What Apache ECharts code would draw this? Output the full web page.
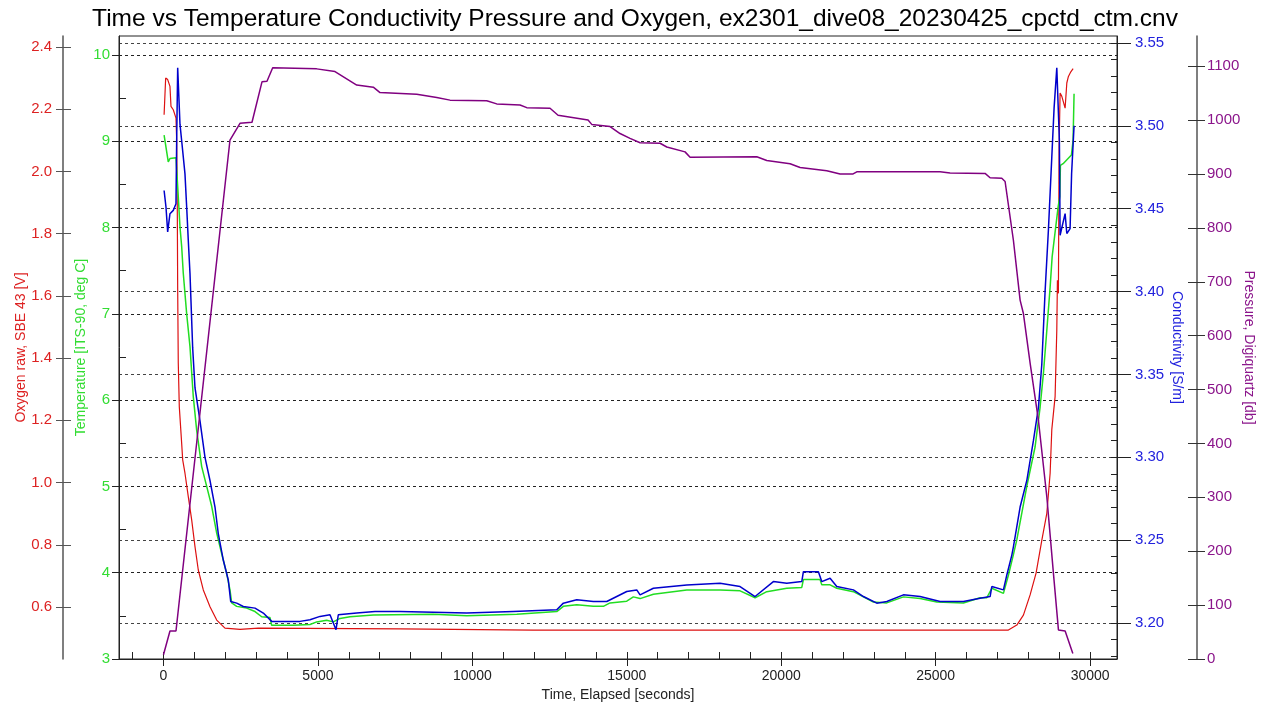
<!DOCTYPE html>
<html>
<head>
<meta charset="utf-8">
<script src="https://cdn.jsdelivr.net/npm/echarts@6/dist/echarts.min.js"></script>
<style>
html,body{margin:0;padding:0;background:#fff;}
#chart{width:1270px;height:709px;}
</style>
</head>
<body>
<div id="chart"></div>
<script>
// ---- Data ----
const pressTime = [0,210,405,2153,2477,2866,3189,3351,3536,4961,5553,6256,6793,7010,8199,8846,9277,10465,10789,11544,11761,12515,12774,13745,13865,14458,14781,15105,15429,16077,16294,16886,17048,19208,19531,20286,20610,21474,21905,22326,22446,25142,25466,26599,26761,27140,27247,27516,27733,27840,28057,28326,28598,28812,28974,29191,29440];
const pressVals = [8,52,52,963,994,996,1071,1072,1097,1095,1090,1065,1061,1051,1048,1042,1037,1036,1030,1028,1023,1022,1009,1000,992,988,975,966,958,957,950,941,931,932,925,919,912,906,900,900,904,904,902,901,893,892,886,777,666,641,549,443,301,159,54,52,10];

const tempTime = [20,155,210,405,479,534,589,641,751,858,965,1075,1237,1399,1561,1723,1885,2046,2153,2208,2370,2694,2963,3180,3449,3503,4203,4744,4961,5284,5498,5715,6039,6793,8736,9818,11437,12732,12946,13379,13917,14241,14458,14998,15212,15429,15860,16941,18020,18667,19153,19532,20179,20665,20717,21257,21312,21581,21798,22336,22553,22983,23417,23955,24496,25036,25898,26438,26655,26817,27193,27354,27516,27626,27950,28219,28381,28488,28598,28705,28770,28964,29019,29038,29125,29394,29448,29480];
const tempVals = [9.07,8.76,8.80,8.81,8.36,8.01,7.78,7.47,7.00,6.62,6.04,5.65,5.23,5.00,4.77,4.46,4.22,3.99,3.80,3.65,3.61,3.59,3.55,3.49,3.48,3.39,3.39,3.40,3.43,3.45,3.43,3.47,3.49,3.51,3.52,3.50,3.52,3.55,3.61,3.63,3.61,3.61,3.65,3.67,3.72,3.70,3.75,3.80,3.80,3.79,3.71,3.78,3.82,3.83,3.92,3.92,3.86,3.86,3.82,3.78,3.74,3.66,3.65,3.72,3.70,3.66,3.65,3.71,3.71,3.82,3.76,3.97,4.21,4.38,5.00,5.46,5.92,6.31,6.81,7.31,7.66,8.24,8.36,8.72,8.74,8.84,9.01,9.55];

const condTime = [20,81,136,210,317,405,427,460,534,589,696,751,803,858,945,1020,1182,1344,1506,1668,1774,1936,2098,2176,2370,2584,2963,3232,3503,3555,4420,4744,5068,5391,5498,5586,5660,6256,6848,7657,9818,11327,12732,12946,13379,13917,14351,14998,15322,15429,15860,16941,18020,18667,19153,19745,20179,20665,20717,21203,21312,21581,21798,22336,22660,23093,23417,23955,24496,25143,25898,26438,26762,26817,27193,27303,27465,27516,27733,27950,28164,28326,28435,28542,28649,28759,28834,28921,29005,29028,29190,29245,29351,29400,29480];
const condVals = [3.461,3.451,3.436,3.447,3.449,3.453,3.491,3.535,3.501,3.491,3.471,3.451,3.431,3.411,3.366,3.342,3.322,3.300,3.286,3.270,3.254,3.238,3.226,3.213,3.212,3.210,3.209,3.206,3.201,3.200,3.201,3.202,3.204,3.205,3.200,3.196,3.205,3.206,3.207,3.207,3.206,3.207,3.208,3.212,3.214,3.213,3.213,3.219,3.220,3.217,3.221,3.223,3.224,3.222,3.216,3.225,3.224,3.225,3.231,3.231,3.225,3.227,3.222,3.220,3.216,3.212,3.213,3.217,3.216,3.213,3.213,3.215,3.216,3.222,3.220,3.229,3.241,3.246,3.270,3.286,3.310,3.330,3.356,3.400,3.437,3.481,3.511,3.535,3.491,3.434,3.447,3.435,3.438,3.471,3.500];

const oxyTime = [20,71,136,210,243,317,405,427,447,460,479,512,589,622,696,803,913,1020,1127,1289,1506,1723,1991,2477,3070,7658,11964,20610,27354,27626,27840,28057,28250,28437,28598,28705,28759,28866,28921,28941,28973,28996,29028,29084,29190,29245,29297,29375,29450];
const oxyVals = [2.182,2.300,2.295,2.273,2.209,2.198,2.171,2.100,1.887,1.620,1.384,1.244,1.126,1.073,1.030,0.955,0.880,0.794,0.719,0.655,0.601,0.558,0.532,0.528,0.532,0.530,0.526,0.526,0.526,0.542,0.574,0.639,0.709,0.815,0.901,1.030,1.170,1.276,1.490,1.650,1.608,2.080,2.252,2.241,2.203,2.284,2.305,2.320,2.330];

// ---- Tick labels ----
const timeTicks = [0,5000,10000,15000,20000,25000,30000];
const timeMinorTicks = [-1000,0,1000,2000,3000,4000,5000,6000,7000,8000,9000,10000,11000,12000,13000,14000,15000,16000,17000,18000,19000,20000,21000,22000,23000,24000,25000,26000,27000,28000,29000,30000];
const tempTicks = [3,4,5,6,7,8,9,10];
const tempMinorTicks = [3.5,4.5,5.5,6.5,7.5,8.5,9.5];
const oxyTicks = [0.6,0.8,1.0,1.2,1.4,1.6,1.8,2.0,2.2,2.4];
const condTicks = [3.20,3.25,3.30,3.35,3.40,3.45,3.50,3.55];
const condMinorTicks = [3.18,3.19,3.20,3.21,3.22,3.23,3.24,3.25,3.26,3.27,3.28,3.29,3.30,3.31,3.32,3.33,3.34,3.35,3.36,3.37,3.38,3.39,3.40,3.41,3.42,3.43,3.44,3.45,3.46,3.47,3.48,3.49,3.50,3.51,3.52,3.53,3.54,3.55];
const pressTicks = [0,100,200,300,400,500,600,700,800,900,1000,1100];

// ---- Styling ----
const FONT = '"Liberation Sans", Arial, sans-serif';
const C_OXY = '#dd1111', C_TEMP = '#22dd22', C_COND = '#0000cc', C_PRESS = '#800080';
const L_OXY = '#dd2222', L_TEMP = '#33dd33', L_COND = '#2222dd', L_PRESS = '#8b158b';

const pairs = (ts, vs) => ts.map((t, i) => [t, vs[i]]);
const plain = v => String(v);

const chart = echarts.init(document.getElementById('chart'), null, {renderer: 'canvas'});
const noLine = {show: false, onZero: false};
chart.setOption({
  animation: false,
  backgroundColor: '#fff',
  title: {
    text: 'Time vs Temperature Conductivity Pressure and Oxygen, ex2301_dive08_20230425_cpctd_ctm.cnv',
    left: 'center', top: 2,
    textStyle: {fontFamily: FONT, fontSize: 24.5, fontWeight: 'normal', color: '#000'}
  },
  grid: {left: 119, right: 153, top: 36, bottom: 50, show: true, borderColor: '#222', borderWidth: 1,
         backgroundColor: 'transparent', containLabel: false, outerBoundsMode: 'none'},
  xAxis: [
    {
      type: 'value', min: -1440, max: 30870,
      name: 'Time, Elapsed [seconds]', nameLocation: 'middle', nameGap: 28,
      nameTextStyle: {fontFamily: FONT, fontSize: 14, color: '#222'},
      axisLine: {show: true, onZero: false, lineStyle: {color: '#222', width: 1}},
      axisTick: {show: true, inside: false, length: 7, customValues: timeTicks, lineStyle: {color: '#222'}},
      axisLabel: {customValues: timeTicks, formatter: plain, fontFamily: FONT, fontSize: 14, color: '#222', margin: 10},
      splitLine: {show: false}
    },
    {
      type: 'value', min: -1440, max: 30870, position: 'bottom',
      axisLine: noLine,
      axisTick: {show: true, inside: true, length: 7, customValues: timeMinorTicks, lineStyle: {color: '#222'}},
      axisLabel: {show: false}, splitLine: {show: false}
    }
  ],
  yAxis: [
    { // 0 temperature
      type: 'value', position: 'left', min: 3, max: 10.22, interval: 1,
      name: 'Temperature [ITS-90, deg C]', nameLocation: 'middle', nameGap: 31, nameMoveOverlap: false,
      nameTextStyle: {fontFamily: FONT, fontSize: 14, color: L_TEMP},
      axisLine: {show: true, onZero: false, lineStyle: {color: '#222'}},
      axisTick: {show: true, length: 7, customValues: tempTicks, lineStyle: {color: '#222'}},
      axisLabel: {customValues: tempTicks, formatter: plain, fontFamily: FONT, fontSize: 15, color: L_TEMP, margin: 9},
      splitLine: {show: true, lineStyle: {color: '#222', type: [3, 3], width: 1}}
    },
    { // 1 temperature minor inside
      type: 'value', position: 'left', min: 3, max: 10.22,
      axisLine: noLine,
      axisTick: {show: true, inside: true, length: 7, customValues: tempMinorTicks, lineStyle: {color: '#222'}},
      axisLabel: {show: false}, splitLine: {show: false}
    },
    { // 2 oxygen
      type: 'value', position: 'left', offset: 56, min: 0.433, max: 2.435,
      name: 'Oxygen raw, SBE 43 [V]', nameLocation: 'middle', nameGap: 35, nameMoveOverlap: false,
      nameTextStyle: {fontFamily: FONT, fontSize: 14, color: L_OXY},
      axisLine: {show: true, onZero: false, lineStyle: {color: '#555', width: 1.5}},
      axisTick: {show: true, length: 7, customValues: oxyTicks, lineStyle: {color: '#555'}},
      axisLabel: {customValues: oxyTicks, formatter: v => v.toFixed(1), fontFamily: FONT, fontSize: 15, color: L_OXY, margin: 11},
      splitLine: {show: false}
    },
    { // 3 oxygen inside ticks
      type: 'value', position: 'left', offset: 56, min: 0.433, max: 2.435,
      axisLine: noLine,
      axisTick: {show: true, inside: true, length: 8, customValues: oxyTicks, lineStyle: {color: '#555'}},
      axisLabel: {show: false}, splitLine: {show: false}
    },
    { // 4 conductivity
      type: 'value', position: 'right', min: 3.1783, max: 3.5542,
      name: 'Conductivity [S/m]', nameLocation: 'middle', nameGap: 53, nameRotate: -90, nameMoveOverlap: false,
      nameTextStyle: {fontFamily: FONT, fontSize: 14, color: L_COND},
      axisLine: {show: true, onZero: false, lineStyle: {color: '#222'}},
      axisTick: {show: true, length: 14, customValues: condTicks, lineStyle: {color: '#222'}},
      axisLabel: {customValues: condTicks, formatter: v => v.toFixed(2), fontFamily: FONT, fontSize: 15, color: L_COND, margin: 18},
      splitLine: {show: true, lineStyle: {color: '#444', type: [3, 3], width: 1}}
    },
    { // 5 conductivity minor inside
      type: 'value', position: 'right', min: 3.1783, max: 3.5542,
      axisLine: noLine,
      axisTick: {show: true, inside: true, length: 6, customValues: condMinorTicks, lineStyle: {color: '#222'}},
      axisLabel: {show: false}, splitLine: {show: false}
    },
    { // 6 pressure
      type: 'value', position: 'right', offset: 80, min: 0, max: 1156,
      name: 'Pressure, Digiquartz [db]', nameLocation: 'middle', nameGap: 45, nameRotate: -90, nameMoveOverlap: false,
      nameTextStyle: {fontFamily: FONT, fontSize: 14, color: L_PRESS},
      axisLine: {show: true, onZero: false, lineStyle: {color: '#555', width: 1.5}},
      axisTick: {show: true, length: 8, customValues: pressTicks, lineStyle: {color: '#333'}},
      axisLabel: {customValues: pressTicks, formatter: plain, fontFamily: FONT, fontSize: 15, color: L_PRESS, margin: 10},
      splitLine: {show: false}
    },
    { // 7 pressure inside ticks
      type: 'value', position: 'right', offset: 80, min: 0, max: 1156,
      axisLine: noLine,
      axisTick: {show: true, inside: true, length: 9, customValues: pressTicks, lineStyle: {color: '#333'}},
      axisLabel: {show: false}, splitLine: {show: false}
    }
  ],
  series: [
    {name: 'Oxygen', type: 'line', xAxisIndex: 0, yAxisIndex: 2, data: pairs(oxyTime, oxyVals),
     showSymbol: false, symbol: 'none', lineStyle: {color: C_OXY, width: 1.2}, z: 2},
    {name: 'Temperature', type: 'line', xAxisIndex: 0, yAxisIndex: 0, data: pairs(tempTime, tempVals),
     showSymbol: false, symbol: 'none', lineStyle: {color: C_TEMP, width: 1.5}, z: 3},
    {name: 'Conductivity', type: 'line', xAxisIndex: 0, yAxisIndex: 4, data: pairs(condTime, condVals),
     showSymbol: false, symbol: 'none', lineStyle: {color: C_COND, width: 1.5}, z: 4},
    {name: 'Pressure', type: 'line', xAxisIndex: 0, yAxisIndex: 6, data: pairs(pressTime, pressVals),
     showSymbol: false, symbol: 'none', lineStyle: {color: C_PRESS, width: 1.5}, z: 5}
  ]
});
</script>
</body>
</html>
